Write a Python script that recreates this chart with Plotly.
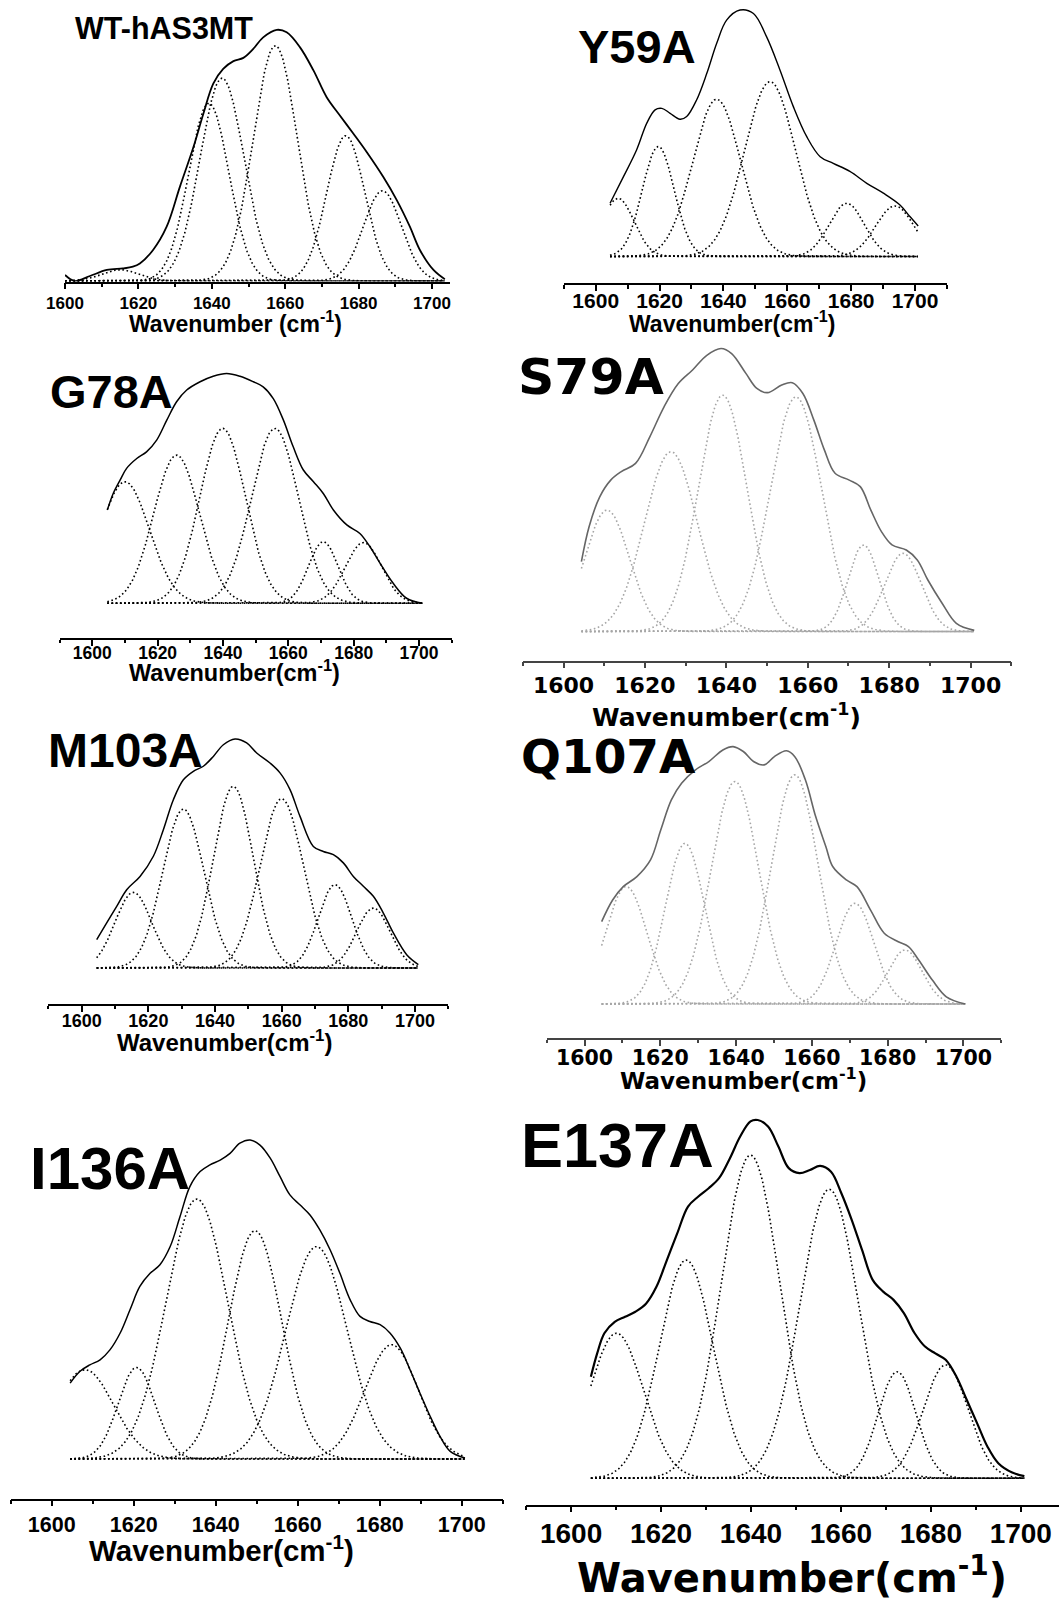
import numpy as np
import plotly.graph_objects as go

W, H = 1059, 1602

# ------------------------------------------------------------------ data
# envelope (measured spectrum) points, wavenumber / normalised absorbance
WT_env_x = [1600.0, 1602.7, 1606.8, 1611.4, 1615.8, 1618.5, 1620.4, 1624.0, 1627.7, 1631.3, 1635.0, 1637.7,
            1640.4, 1643.1, 1645.9, 1648.6, 1651.3, 1654.0, 1657.7, 1660.4, 1664.0, 1667.7, 1671.3, 1674.9,
            1678.6, 1682.2, 1686.7, 1690.4, 1694.0, 1696.7, 1700.4, 1703.5]
WT_env_y = [0.024, 0.0, 0.020, 0.044, 0.050, 0.057, 0.070, 0.124, 0.217, 0.376, 0.535, 0.668,
            0.788, 0.847, 0.878, 0.891, 0.927, 0.973, 1.003, 0.993, 0.934, 0.841, 0.734, 0.661,
            0.588, 0.515, 0.416, 0.323, 0.216, 0.124, 0.044, 0.007]
WT_band_center = [1615.0, 1639.2, 1642.8, 1657.3, 1676.5, 1686.5]
WT_band_height = [0.045, 0.71, 0.81, 0.94, 0.58, 0.36]
WT_band_sigma = [5.0, 5.5, 6.0, 6.0, 5.2, 5.2]

Y59A_env_x = [1604.5, 1608.7, 1612.8, 1616.0, 1618.6, 1620.7, 1623.3, 1626.4, 1628.5, 1631.6, 1634.8, 1637.9,
              1641.0, 1645.2, 1649.4, 1653.5, 1657.7, 1661.9, 1666.1, 1670.3, 1674.4, 1679.6, 1684.9, 1690.1,
              1695.3, 1698.4, 1701.0]
Y59A_env_y = [0.216, 0.324, 0.432, 0.541, 0.595, 0.601, 0.581, 0.557, 0.568, 0.635, 0.743, 0.865,
              0.959, 1.0, 0.986, 0.892, 0.757, 0.608, 0.486, 0.405, 0.378, 0.345, 0.297, 0.257,
              0.209, 0.162, 0.124]
Y59A_band_center = [1607.0, 1619.6, 1637.9, 1654.6, 1678.6, 1693.7]
Y59A_band_height = [0.236, 0.446, 0.638, 0.709, 0.216, 0.205]
Y59A_band_sigma = [5.0, 5.0, 7.5, 8.0, 5.5, 6.0]

G78A_env_x = [1604.6, 1606.4, 1608.5, 1610.5, 1613.6, 1616.6, 1619.7, 1622.8, 1625.8, 1628.9, 1633.0, 1637.0,
              1641.1, 1645.2, 1649.3, 1652.3, 1655.4, 1658.5, 1661.5, 1664.6, 1667.7, 1670.7, 1673.8, 1677.9,
              1681.9, 1685.0, 1688.1, 1692.1, 1696.2, 1701.1]
G78A_env_y = [0.406, 0.478, 0.536, 0.587, 0.630, 0.659, 0.710, 0.797, 0.877, 0.928, 0.964, 0.988,
              1.0, 0.988, 0.964, 0.942, 0.891, 0.797, 0.681, 0.580, 0.529, 0.478, 0.406, 0.341,
              0.304, 0.246, 0.174, 0.087, 0.022, 0.0]
G78A_band_center = [1610.0, 1625.8, 1639.9, 1655.9, 1670.7, 1683.0]
G78A_band_height = [0.529, 0.645, 0.761, 0.761, 0.268, 0.264]
G78A_band_sigma = [7.5, 7.0, 7.0, 7.2, 4.5, 5.5]

S79A_env_x = [1604.4, 1606.3, 1608.9, 1611.6, 1614.2, 1617.7, 1621.2, 1624.7, 1628.2, 1631.7, 1635.2, 1638.7,
              1641.3, 1644.8, 1647.5, 1650.1, 1653.6, 1656.2, 1658.8, 1661.5, 1664.1, 1666.7, 1670.2, 1672.9,
              1675.5, 1678.1, 1680.7, 1684.2, 1686.9, 1689.5, 1693.0, 1696.5, 1700.9]
S79A_env_y = [0.247, 0.371, 0.476, 0.535, 0.565, 0.594, 0.688, 0.794, 0.876, 0.924, 0.976, 1.0,
              0.982, 0.912, 0.859, 0.844, 0.871, 0.879, 0.841, 0.747, 0.641, 0.559, 0.535, 0.512,
              0.429, 0.353, 0.306, 0.288, 0.253, 0.182, 0.100, 0.029, 0.004]
S79A_band_center = [1610.7, 1626.4, 1639.1, 1657.1, 1673.7, 1683.4]
S79A_band_height = [0.429, 0.635, 0.835, 0.829, 0.306, 0.276]
S79A_band_sigma = [5.5, 6.5, 6.0, 6.3, 3.8, 4.5]

M103A_env_x = [1604.5, 1607.5, 1610.5, 1613.5, 1617.5, 1621.5, 1624.5, 1627.5, 1630.5, 1633.5, 1636.5, 1639.5,
               1642.5, 1646.0, 1649.5, 1652.5, 1656.5, 1659.5, 1662.5, 1665.5, 1669.5, 1672.5, 1675.5, 1678.5,
               1681.5, 1684.5, 1687.5, 1690.5, 1693.5, 1697.5, 1701.0]
M103A_env_y = [0.124, 0.197, 0.269, 0.342, 0.400, 0.488, 0.604, 0.735, 0.822, 0.859, 0.881, 0.924,
               0.975, 1.0, 0.983, 0.939, 0.895, 0.852, 0.779, 0.662, 0.531, 0.509, 0.495, 0.459,
               0.400, 0.357, 0.313, 0.240, 0.153, 0.058, 0.015]
M103A_band_center = [1615.5, 1630.5, 1645.5, 1660.0, 1676.0, 1687.5]
M103A_band_height = [0.330, 0.694, 0.793, 0.739, 0.364, 0.262]
M103A_band_sigma = [5.5, 6.2, 6.0, 6.5, 5.0, 5.0]

Q107A_env_x = [1604.5, 1607.4, 1610.2, 1613.8, 1617.4, 1620.1, 1622.9, 1625.6, 1629.2, 1632.8, 1636.5, 1639.2,
               1641.9, 1644.6, 1647.4, 1650.1, 1653.3, 1655.5, 1658.3, 1661.0, 1663.7, 1665.5, 1669.1, 1671.9,
               1675.5, 1679.1, 1682.8, 1685.5, 1688.2, 1691.8, 1695.5, 1700.5]
Q107A_env_y = [0.320, 0.404, 0.456, 0.495, 0.560, 0.676, 0.793, 0.858, 0.909, 0.942, 0.987, 1.0,
               0.981, 0.942, 0.929, 0.961, 0.984, 0.961, 0.870, 0.728, 0.611, 0.534, 0.482, 0.456,
               0.365, 0.275, 0.242, 0.223, 0.171, 0.093, 0.028, 0.0]
Q107A_band_center = [1611.0, 1626.5, 1639.7, 1655.5, 1671.4, 1684.6]
Q107A_band_height = [0.456, 0.624, 0.864, 0.890, 0.391, 0.210]
Q107A_band_sigma = [5.5, 5.2, 6.3, 6.2, 5.0, 4.5]

I136A_env_x = [1604.5, 1606.9, 1609.3, 1611.8, 1614.2, 1616.7, 1619.1, 1621.5, 1624.0, 1626.4, 1628.9, 1631.3,
               1633.7, 1636.2, 1638.6, 1641.1, 1643.5, 1645.9, 1648.4, 1650.8, 1653.3, 1655.7, 1658.1, 1660.6,
               1663.0, 1665.4, 1667.9, 1670.3, 1672.8, 1675.2, 1677.6, 1680.1, 1682.5, 1685.0, 1687.4, 1689.8,
               1692.3, 1694.7, 1697.2, 1700.8]
I136A_env_y = [0.238, 0.275, 0.295, 0.311, 0.342, 0.395, 0.468, 0.541, 0.582, 0.609, 0.666, 0.760,
               0.854, 0.901, 0.922, 0.937, 0.958, 0.990, 1.0, 0.984, 0.943, 0.885, 0.828, 0.796,
               0.765, 0.718, 0.656, 0.582, 0.499, 0.447, 0.431, 0.421, 0.395, 0.348, 0.280, 0.207,
               0.134, 0.071, 0.024, 0.003]
I136A_band_center = [1608.1, 1620.7, 1635.4, 1649.6, 1664.6, 1682.9]
I136A_band_height = [0.280, 0.287, 0.815, 0.716, 0.666, 0.358]
I136A_band_sigma = [7.0, 4.5, 7.5, 6.5, 7.5, 6.5]

E137A_env_x = [1604.4, 1605.8, 1607.4, 1609.7, 1612.0, 1614.3, 1616.7, 1619.0, 1621.3, 1623.6, 1626.0, 1628.3,
               1630.6, 1632.9, 1635.3, 1637.6, 1639.9, 1641.5, 1643.8, 1646.1, 1648.4, 1650.8, 1653.1, 1655.4,
               1657.8, 1660.1, 1662.4, 1664.7, 1667.1, 1669.4, 1671.7, 1674.0, 1676.4, 1678.7, 1681.0, 1683.3,
               1685.7, 1688.0, 1690.3, 1692.6, 1695.0, 1698.1, 1700.8]
E137A_env_y = [0.283, 0.348, 0.404, 0.436, 0.450, 0.464, 0.487, 0.534, 0.608, 0.682, 0.757, 0.785,
               0.808, 0.836, 0.891, 0.952, 0.994, 0.998, 0.980, 0.924, 0.864, 0.850, 0.859, 0.870,
               0.854, 0.794, 0.720, 0.636, 0.552, 0.520, 0.497, 0.460, 0.404, 0.367, 0.348, 0.330,
               0.283, 0.218, 0.153, 0.088, 0.042, 0.016, 0.006]
E137A_band_center = [1610.1, 1625.6, 1639.9, 1657.4, 1672.5, 1683.3]
E137A_band_height = [0.404, 0.608, 0.900, 0.805, 0.297, 0.316]
E137A_band_sigma = [6.0, 6.0, 6.5, 6.5, 4.2, 5.0]

tick_values = [1600, 1620, 1640, 1660, 1680, 1700]
tick_labels = ["1600", "1620", "1640", "1660", "1680", "1700"]

# ------------------------------------------------------------------ layout (pixel geometry per panel)
ARIAL = "Liberation Sans, Arial, sans-serif"
DEJAVU = "DejaVu Sans, sans-serif"
BLACK, GRAYB, GRAYE = "#000000", "#a6a6a6", "#666666"

panels = [
    dict(label="WT-hAS3MT", env=(WT_env_x, WT_env_y),
         bands=(WT_band_center, WT_band_height, WT_band_sigma),
         a=65.0, b=3.67, ax=(1600, 1705), yA=281.5, y0=281.0, y1=30.6,
         lab=(74, 28.5, 30.5, ARIAL), tit=("Wavenumber (cm<sup>-1</sup>)", 235.5, 322, 23, ARIAL),
         tick=(17, ARIAL, -1), col=(BLACK, BLACK, BLACK), ew=1.8),
    dict(label="Y59A", env=(Y59A_env_x, Y59A_env_y),
         bands=(Y59A_band_center, Y59A_band_height, Y59A_band_sigma),
         a=595.7, b=3.193, ax=(1590, 1710), yA=283.3, y0=256.5, y1=10.0,
         lab=(577, 47, 47, ARIAL), tit=("Wavenumber(cm<sup>-1</sup>)", 732, 321.5, 23, ARIAL),
         tick=(21, ARIAL, -8), col=(BLACK, BLACK, BLACK), ew=1.4),
    dict(label="G78A", env=(G78A_env_x, G78A_env_y),
         bands=(G78A_band_center, G78A_band_height, G78A_band_sigma),
         a=92.3, b=3.267, ax=(1590, 1710), yA=638.0, y0=603.3, y1=373.5,
         lab=(49, 391, 47, ARIAL), tit=("Wavenumber(cm<sup>-1</sup>)", 234, 670.5, 23.5, ARIAL),
         tick=(17.5, ARIAL, -8), col=(BLACK, BLACK, BLACK), ew=1.5),
    dict(label="S79A", env=(S79A_env_x, S79A_env_y),
         bands=(S79A_band_center, S79A_band_height, S79A_band_sigma),
         a=563.5, b=4.071, ax=(1590, 1710), yA=660.7, y0=631.5, y1=348.5,
         lab=(517, 376, 50.5, DEJAVU), tit=("Wavenumber(cm<sup>-1</sup>)", 726, 715, 25, DEJAVU),
         tick=(22, DEJAVU, -2), col=(GRAYE, GRAYB, "#444444"), ew=1.6),
    dict(label="M103A", env=(M103A_env_x, M103A_env_y),
         bands=(M103A_band_center, M103A_band_height, M103A_band_sigma),
         a=81.7, b=3.333, ax=(1590, 1710), yA=1004.0, y0=968.0, y1=739.0,
         lab=(47, 750.5, 48, ARIAL), tit=("Wavenumber(cm<sup>-1</sup>)", 224, 1040.5, 24, ARIAL),
         tick=(18, ARIAL, -6), col=(BLACK, BLACK, BLACK), ew=1.5),
    dict(label="Q107A", env=(Q107A_env_x, Q107A_env_y),
         bands=(Q107A_band_center, Q107A_band_height, Q107A_band_sigma),
         a=584.6, b=3.788, ax=(1590, 1710), yA=1038.0, y0=1004.0, y1=746.6,
         lab=(520, 757, 47, DEJAVU), tit=("Wavenumber(cm<sup>-1</sup>)", 743, 1078.5, 23, DEJAVU),
         tick=(20.5, DEJAVU, -5), col=(GRAYE, GRAYB, "#444444"), ew=1.6),
    dict(label="I136A", env=(I136A_env_x, I136A_env_y),
         bands=(I136A_band_center, I136A_band_height, I136A_band_sigma),
         a=51.7, b=4.1, ax=(1590, 1710), yA=1498.5, y0=1459.0, y1=1140.0,
         lab=(29, 1168.5, 60, ARIAL), tit=("Wavenumber(cm<sup>-1</sup>)", 221.5, 1548.5, 29.5, ARIAL),
         tick=(21.5, ARIAL, 0), col=(BLACK, BLACK, BLACK), ew=1.5),
    dict(label="E137A", env=(E137A_env_x, E137A_env_y),
         bands=(E137A_band_center, E137A_band_height, E137A_band_sigma),
         a=571.3, b=4.517, ax=(1590, 1708.5), yA=1504.5, y0=1478.3, y1=1119.3,
         lab=(520, 1145, 63, ARIAL), tit=("Wavenumber(cm<sup>-1</sup>)", 792, 1575, 40, DEJAVU),
         tick=(28, ARIAL, -3), col=(BLACK, BLACK, BLACK), ew=2.2),
]

fig = go.Figure()
annotations = []
layout_axes = {}

for i, p in enumerate(panels, start=1):
    xs = "" if i == 1 else str(i)
    env_col, band_col, axis_col = p["col"]
    ex, ey = p["env"]
    # component bands (Gaussian shapes from the read centre/height/width)
    xb = np.arange(ex[0], ex[-1] + 0.001, 0.2)
    for c, h, s in zip(*p["bands"]):
        yb = h * np.exp(-0.5 * ((xb - c) / s) ** 2)
        fig.add_trace(go.Scatter(x=xb, y=yb, mode="lines", xaxis="x" + xs, yaxis="y" + xs,
                                 line=dict(color=band_col, width=1.6, dash="1.6px,2.6px"),
                                 hoverinfo="skip", showlegend=False))
    fig.add_trace(go.Scatter(x=ex, y=ey, mode="lines", xaxis="x" + xs, yaxis="y" + xs,
                             line=dict(color=env_col, width=p["ew"], shape="spline", smoothing=1.0),
                             showlegend=False, hoverinfo="skip"))

    a, b = p["a"], p["b"]
    x0px = a + (p["ax"][0] - 1600) * b
    x1px = a + (p["ax"][1] - 1600) * b
    y0, y1, yA = p["y0"], p["y1"], p["yA"]
    top_px = max(0.0, y1 - 0.08 * (y0 - y1))
    yr_top = (y0 - top_px) / (y0 - y1)
    yr_bot = -(yA - y0) / (y0 - y1)
    tsz, tfam, tstand = p["tick"]
    layout_axes["xaxis" + xs] = dict(
        domain=[x0px / W, min(1.0, x1px / W)], range=list(p["ax"]), anchor="y" + xs,
        showgrid=False, zeroline=False, showline=True, linecolor=axis_col, linewidth=1.5,
        ticks="outside", ticklen=6, tickwidth=1.5, tickcolor=axis_col,
        tickmode="array", tickvals=tick_values, ticktext=tick_labels,
        ticklabelstandoff=tstand, automargin=False,
        tickfont=dict(family=tfam, size=tsz, color="black", weight="bold"),
        minor=dict(ticks="outside", ticklen=3.5, tickwidth=1.5, tickcolor=axis_col,
                   tickmode="linear", tick0=1590, dtick=10, showgrid=False),
        fixedrange=True)
    layout_axes["yaxis" + xs] = dict(
        domain=[1 - yA / H, 1 - top_px / H], range=[yr_bot, yr_top], anchor="x" + xs,
        visible=False, showgrid=False, zeroline=False, fixedrange=True, automargin=False)

    lx, ly, lsz, lfam = p["lab"]
    annotations.append(dict(text=p["label"], xref="paper", yref="paper", x=lx / W, y=1 - ly / H,
                            xanchor="left", yanchor="middle", showarrow=False, borderpad=0,
                            font=dict(family=lfam, size=lsz, color="black", weight="bold")))
    tt, tx, ty, tsz2, tfam2 = p["tit"]
    annotations.append(dict(text=tt, xref="paper", yref="paper", x=tx / W, y=1 - ty / H,
                            xanchor="center", yanchor="middle", showarrow=False, borderpad=0,
                            font=dict(family=tfam2, size=tsz2, color="black", weight="bold")))

fig.update_layout(width=W, height=H,
                  margin=dict(l=0, r=0, t=0, b=0, pad=0, autoexpand=False),
                  paper_bgcolor="white", plot_bgcolor="rgba(0,0,0,0)",
                  annotations=annotations, showlegend=False, **layout_axes)

fig.write_html("out.html", config={"displayModeBar": False})
